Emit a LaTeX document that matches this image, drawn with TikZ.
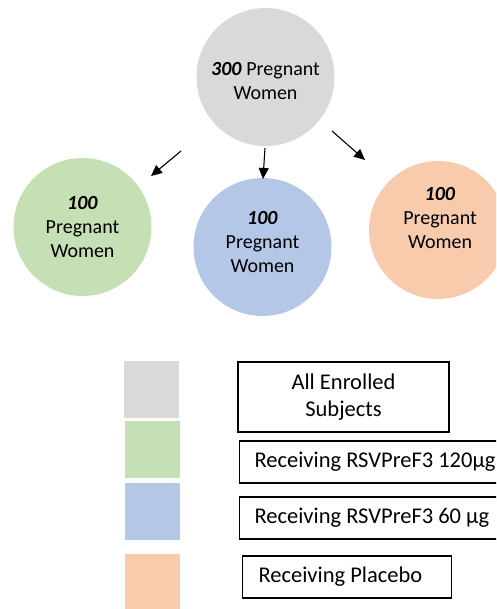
\documentclass[tikz,border=0pt]{standalone}
\usepackage{fontspec}
\setmainfont{Carlito}
\usetikzlibrary{arrows.meta,positioning}
\definecolor{allgray}{RGB}{217,217,217}
\definecolor{hidose}{RGB}{197,224,180}
\definecolor{lodose}{RGB}{180,199,231}
\definecolor{placebo}{RGB}{248,203,173}

\begin{document}
\begin{tikzpicture}[x=1pt, y=-1pt,
		disc/.style={circle, minimum size=138pt, inner sep=0pt},
		disctext/.style={align=center, font=\fontsize{20}{24}\selectfont},
		swatch/.style={minimum width=55pt, minimum height=57pt, inner sep=0pt},
		keybox/.style={draw=black, line width=1.1pt, minimum height=42pt,
			font=\fontsize{22.5}{27}\selectfont},
		arrow/.style={-{Triangle[length=11pt, width=10pt]}, line width=1.1pt, black}
	]
		\path[use as bounding box, clip] (0,0) rectangle (496,609);
		% circles
		\node[disc, fill=allgray, label={[disctext, yshift=-4pt]center:{\textbf{\textit{300}} Pregnant\\Women}}] (all) at (265.5,77) {};
		\node[disc, fill=hidose, label={[disctext]center:{\textbf{\textit{100}}\\Pregnant\\Women}}] (hi) at (82.5,227) {};
		\node[disc, fill=lodose, label={[disctext, yshift=5pt]center:{\textbf{\textit{100}}\\Pregnant\\Women}}] (lo) at (262.5,247) {};
		\node[disc, fill=placebo, label={[disctext, yshift=12pt, xshift=2pt]center:{\textbf{\textit{100}}\\Pregnant\\Women}}] (pbo) at (438,230) {};
		% arrows
		\coordinate (a1) at (181,151);
		\coordinate (a2) at (151,176);
		\coordinate (b1) at (265,148);
		\coordinate (b2) at (263,179);
		\coordinate (c1) at (332,131);
		\coordinate (c2) at (365,160);
		\draw[arrow] (a1) -- (a2);
		\draw[arrow] (b1) -- (b2);
		\draw[arrow] (c1) -- (c2);
		% legend
		\node[swatch, fill=allgray] (kall) at (151.5,389.5) {};
		\node[swatch, fill=hidose] (khi) at (152.5,449.5) {};
		\node[swatch, fill=lodose] (klo) at (152.5,511.5) {};
		\node[swatch, fill=placebo] (kpbo) at (152.5,582) {};
		\node[keybox, minimum width=211pt, minimum height=70pt, align=center] (tall) at (343.5,397) {All Enrolled\\Subjects};
		\node[keybox, anchor=west, inner xsep=15pt] (thi) at (239,462) {Receiving RSVPreF3 120µg};
		\node[keybox, anchor=west, inner xsep=15pt] (tlo) at (239,518) {Receiving RSVPreF3 60 µg};
		\node[keybox, anchor=west, inner xsep=16pt, text width=177pt, align=flush left] (tpbo) at (242,577) {Receiving Placebo};
	\end{tikzpicture}
\end{document}
